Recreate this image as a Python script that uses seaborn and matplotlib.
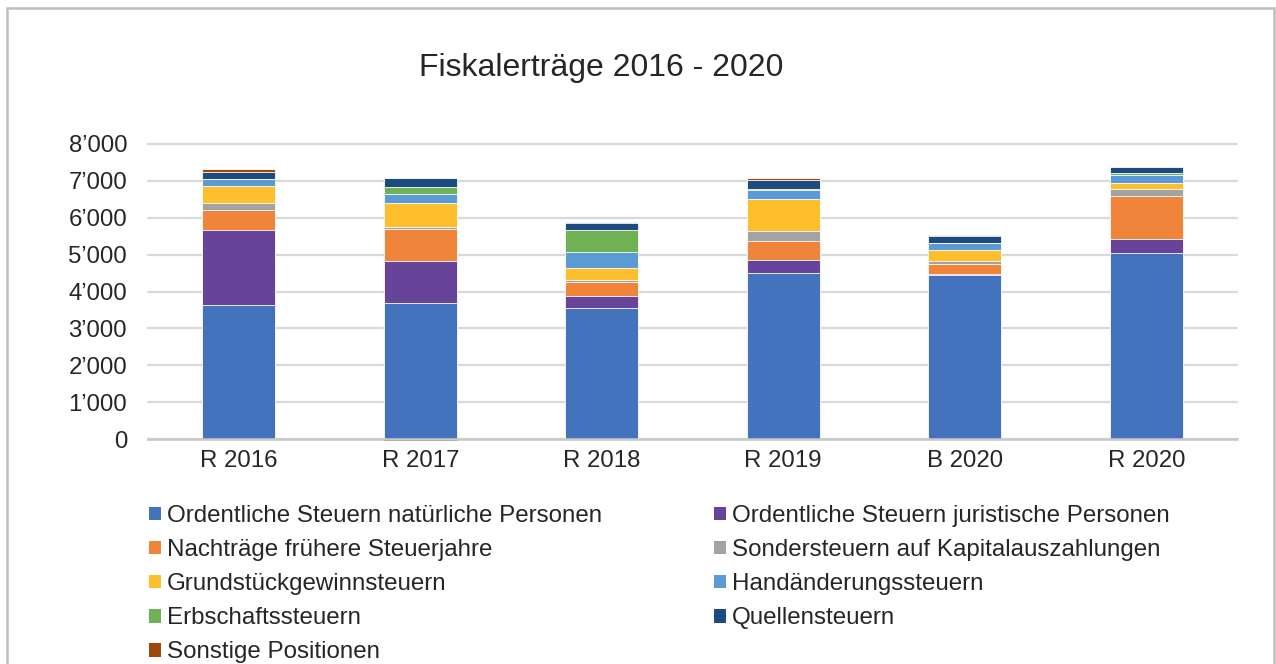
import numpy as np
import pandas as pd
import matplotlib
matplotlib.use("Agg")
import matplotlib.pyplot as plt
from matplotlib.patches import Patch, Rectangle
from matplotlib.ticker import FuncFormatter
import seaborn as sns

# Kategorien und Werte (in Mio.)
categories = ["R 2016", "R 2017", "R 2018", "R 2019", "B 2020", "R 2020"]

series_names = [
    "Ordentliche Steuern natürliche Personen",
    "Ordentliche Steuern juristische Personen",
    "Nachträge frühere Steuerjahre",
    "Sondersteuern auf Kapitalauszahlungen",
    "Grundstückgewinnsteuern",
    "Handänderungssteuern",
    "Erbschaftssteuern",
    "Quellensteuern",
    "Sonstige Positionen",
]

natuerliche = [3630, 3677, 3542, 4490, 4453, 5033]
juristische = [2040, 1150, 340, 370, 10, 380]
nachtraege = [550, 860, 370, 500, 290, 1190]
sondersteuern = [170, 70, 70, 290, 80, 165]
grundstueck = [460, 650, 315, 850, 280, 170]
handaenderung = [190, 225, 435, 250, 210, 210]
erbschaft = [10, 210, 605, 20, 5, 70]
quellen = [200, 230, 180, 250, 170, 155]
sonstige = [60, -50, 30, 60, 45, 10]

colors = ["#4373BD", "#67439A", "#F0843B", "#A3A3A3", "#FDBF2C",
          "#5A9BD5", "#70B154", "#1D4B7F", "#9E480E"]

values = np.array([natuerliche, juristische, nachtraege, sondersteuern,
                   grundstueck, handaenderung, erbschaft, quellen, sonstige], dtype=float)

sns.set_theme(style="white")
plt.rcParams["font.family"] = ["Liberation Sans", "DejaVu Sans"]
text_color = "#262626"

fig = plt.figure(figsize=(12.76, 6.64), dpi=100)
ax = fig.add_axes([148 / 1276, 1 - 439 / 664, 1089 / 1276, 295 / 664])

pos = np.clip(values, 0, None)
neg = np.clip(values, None, 0)
cum = pos.cumsum(axis=0)

# gestapelt: von oben nach unten zeichnen (kumulierte Summen)
for i in range(len(series_names) - 1, -1, -1):
    df = pd.DataFrame({"cat": categories, "val": cum[i]})
    sns.barplot(data=df, x="cat", y="val", color=colors[i], saturation=1,
                width=0.4, ax=ax, linewidth=0.6, edgecolor="white", zorder=3)

# negative Werte nach unten
for i in range(len(series_names)):
    if (neg[i] < 0).any():
        df = pd.DataFrame({"cat": categories, "val": neg[i]})
        sns.barplot(data=df, x="cat", y="val", color=colors[i], saturation=1,
                    width=0.4, ax=ax, linewidth=0, zorder=3)

for p in ax.patches:
    p.set_clip_on(False)

ax.set_ylim(0, 8000)
ax.set_xlim(-0.5, 5.5)
ax.set_yticks(range(0, 8001, 1000))
ax.yaxis.set_major_formatter(FuncFormatter(lambda v, _: f"{int(v):,}".replace(",", "\u2019")))
ax.yaxis.grid(True, color="#D9D9D9", linewidth=1.6, zorder=0)
for gl in ax.get_ygridlines():
    gl.set_clip_on(False)
ax.set_axisbelow(True)
for s in ["top", "right", "left"]:
    ax.spines[s].set_visible(False)
ax.spines["bottom"].set_color("#C8C8C8")
ax.spines["bottom"].set_linewidth(1.8)
ax.spines["bottom"].set_zorder(4)
ax.set_xlabel("")
ax.set_ylabel("")
ax.tick_params(axis="y", length=0, pad=15, labelsize=17.3, labelcolor=text_color)
ax.tick_params(axis="x", length=0, pad=8, labelsize=17.3, labelcolor=text_color)

fig.text(601 / 1276, 1 - 68 / 664, "Fiskalerträge 2016 - 2020", ha="center", va="center",
         fontsize=23, color=text_color)

handles = [Patch(facecolor=c, edgecolor="none", label=n) for c, n in zip(colors, series_names)]
order = [0, 2, 4, 6, 8, 1, 3, 5, 7]
fig.legend([handles[i] for i in order], [series_names[i] for i in order],
           ncol=2, loc="upper left", bbox_to_anchor=(149 / 1276, 1 - 505 / 664),
           frameon=False, fontsize=17.4, handlelength=0.5, handleheight=0.5,
           handletextpad=0.25, columnspacing=4.63, labelspacing=0.5,
           borderpad=0, borderaxespad=0, labelcolor=text_color)

# Rahmen des Diagrammbereichs
fig.patches.append(Rectangle((7 / 1276, -0.05), 1267 / 1276, 1.05 - 8 / 664,
                             transform=fig.transFigure, fill=False,
                             edgecolor="#BFBFBF", linewidth=1.8))

fig.savefig("out.png", dpi=100)
